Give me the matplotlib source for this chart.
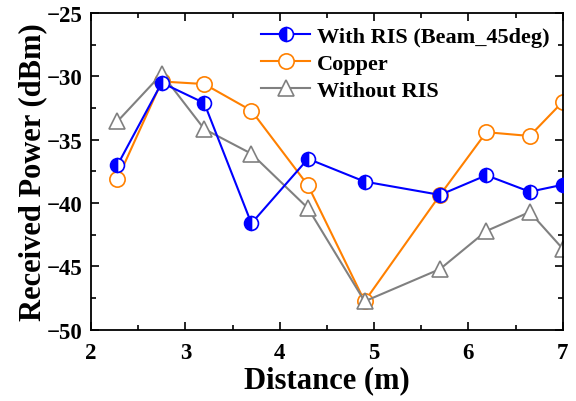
import matplotlib
matplotlib.use("Agg")
import matplotlib.pyplot as plt
from matplotlib.ticker import MultipleLocator

plt.rcParams['font.family'] = ['Liberation Serif', 'DejaVu Serif']
plt.rcParams['font.weight'] = 'bold'

# data
distance = [2.28, 2.75, 3.2, 3.7, 4.3, 4.9, 5.7, 6.19, 6.65, 7.0]
with_ris = [-37.0, -30.5, -32.1, -41.6, -36.5, -38.3, -39.35, -37.8, -39.1, -38.55]
copper = [-38.1, -30.4, -30.6, -32.7, -38.6, -47.75, -39.35, -34.4, -34.7, -32.0]
without_ris = [-33.55, -29.8, -34.15, -36.1, -40.4, -47.75, -45.2, -42.2, -40.7, -43.6]

fig = plt.figure(figsize=(5.76, 4.02), dpi=100)
ax = fig.add_axes([0.158, 0.177, 0.819, 0.788])

ax.plot(distance, with_ris, color='#0000ff', lw=1.5, marker='o', ms=10,
        fillstyle='left', markerfacecolor='#0000ff', markerfacecoloralt='white',
        markeredgecolor='#0000ff', mew=1.2, label='With RIS (Beam_45deg)', zorder=3)
ax.plot(distance, copper, color='#ff8000', lw=1.5, marker='o', ms=11,
        markerfacecolor='white', markeredgecolor='#ff8000', mew=1.2,
        label='Copper', zorder=2)
ax.plot(distance, without_ris, color='#808080', lw=1.5, marker='^', ms=12,
        markerfacecolor='white', markeredgecolor='#808080', mew=1.2,
        label='Without RIS', zorder=2)

ax.set_xlim(2, 7)
ax.set_ylim(-50, -25)
ax.xaxis.set_major_locator(MultipleLocator(1))
ax.xaxis.set_minor_locator(MultipleLocator(0.5))
ax.yaxis.set_major_locator(MultipleLocator(5))
ax.yaxis.set_minor_locator(MultipleLocator(2.5))
ax.tick_params(which='both', direction='in', top=True, right=True, width=1.2)
ax.tick_params(which='major', length=6, labelsize=16.5, pad=6)
ax.tick_params(axis='x', which='major', pad=9)
ax.tick_params(which='minor', length=3.5)
for s in ax.spines.values():
    s.set_linewidth(1.3)

ax.set_xlabel('Distance (m)', fontsize=22, fontweight='bold', labelpad=1)
ax.set_ylabel('Received Power (dBm)', fontsize=22, fontweight='bold', labelpad=0)

ax.legend(loc='upper right', frameon=False, fontsize=16, handlelength=2.2,
          handletextpad=0.3, labelspacing=0.28, borderaxespad=0.2,
          bbox_to_anchor=(1.0, 1.0))

fig.savefig('out.png', dpi=100)
